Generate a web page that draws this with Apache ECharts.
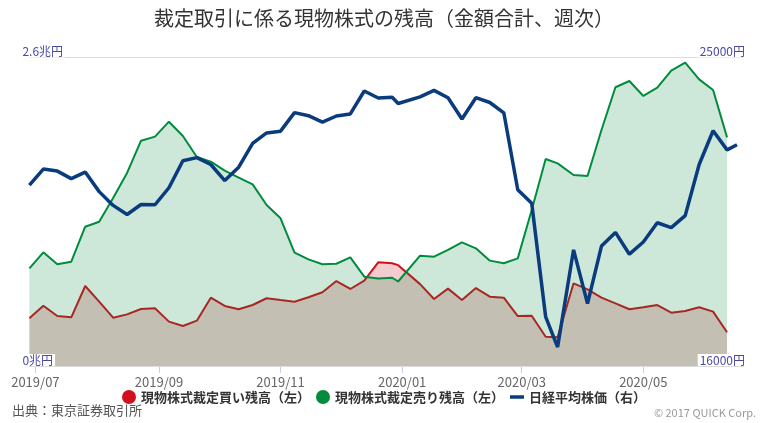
<!DOCTYPE html>
<html>
<head>
<meta charset="utf-8">
<script src="https://cdn.jsdelivr.net/npm/echarts@6/dist/echarts.min.js"></script>
<style>
html,body{margin:0;padding:0;background:#fff;}
#c{width:768px;height:423px;}
</style>
</head>
<body>
<div id="c"></div>
<script>
// ---- data ----
const weekDates = [
  '2019-06-28','2019-07-05','2019-07-12','2019-07-19','2019-07-26',
  '2019-08-02','2019-08-09','2019-08-16','2019-08-23','2019-08-30',
  '2019-09-06','2019-09-13','2019-09-20','2019-09-27',
  '2019-10-04','2019-10-11','2019-10-18','2019-10-25',
  '2019-11-01','2019-11-08','2019-11-15','2019-11-22','2019-11-29',
  '2019-12-06','2019-12-13','2019-12-20','2019-12-27','2019-12-30',
  '2020-01-10','2020-01-17','2020-01-24','2020-01-31',
  '2020-02-07','2020-02-14','2020-02-21','2020-02-28',
  '2020-03-06','2020-03-13','2020-03-19','2020-03-27',
  '2020-04-03','2020-04-10','2020-04-17','2020-04-24',
  '2020-05-01','2020-05-08','2020-05-15','2020-05-22','2020-05-29',
  '2020-06-05','2020-06-12'
];
const nikkeiDates = weekDates.concat(['2020-06-17']);

// 現物株式裁定買い残高（兆円）
const buyBalance = [
  0.402,0.508,0.421,0.410,0.674,
  0.542,0.407,0.435,0.480,0.486,
  0.374,0.337,0.382,0.576,
  0.506,0.478,0.514,0.571,
  0.556,0.542,0.579,0.621,0.716,
  0.649,0.719,0.874,0.866,0.850,
  0.690,0.565,0.652,0.556,
  0.657,0.584,0.576,0.421,
  0.424,0.247,0.242,0.697,
  0.646,0.576,0.528,0.478,
  0.495,0.514,0.449,0.464,0.495,
  0.458,0.284
];
// 現物株式裁定売り残高（兆円）
const sellBalance = [
  0.823,0.958,0.857,0.879,1.174,
  1.216,1.416,1.627,1.899,1.933,
  2.059,1.938,1.761,1.722,
  1.646,1.587,1.531,1.357,
  1.245,0.955,0.899,0.857,0.862,
  0.916,0.753,0.738,0.744,0.712,
  0.930,0.921,0.978,1.042,
  0.992,0.888,0.866,0.907,
  1.315,1.745,1.708,1.610,
  1.601,1.989,2.349,2.402,
  2.276,2.346,2.489,2.556,2.416,
  2.326,1.927
];
// 日経平均株価（円）
const nikkei = [
  21276,21746,21686,21467,21658,
  21087,20685,20419,20711,20704,
  21200,21988,22079,21879,
  21410,21799,22493,22800,
  22851,23392,23303,23113,23294,
  23354,24023,23817,23838,23657,
  23851,24041,23827,23205,
  23828,23688,23387,21143,
  20750,17431,16553,19389,
  17820,19499,19897,19262,
  19619,20179,20037,20388,21878,
  22864,22305,22456
];
const xTickLabels = ['2019-07-01','2019-09-01','2019-11-01','2020-01-01','2020-03-01','2020-05-01'];
const seriesNames = ['現物株式裁定買い残高（左）','現物株式裁定売り残高（左）','日経平均株価（右）'];

// ---- helpers ----
function ts(s){ const p = s.split('-').map(Number); return new Date(p[0], p[1]-1, p[2]).getTime(); }
function pairs(d, v){ return d.map((x,i)=>[ts(x), v[i]]); }
const FONT = '"Noto Sans CJK JP", "Noto Sans", sans-serif';
const tickVals = xTickLabels.map(ts);

const chart = echarts.init(document.getElementById('c'), null, {renderer:'canvas'});
chart.setOption({
  animation:false,
  backgroundColor:'#fff',
  textStyle:{fontFamily:FONT},
  title:{
    text:'裁定取引に係る現物株式の残高（金額合計、週次）',
    left:'center', top:3,
    textStyle:{fontSize:20, fontWeight:'normal', color:'#333', fontFamily:FONT}
  },
  legend:{
    left:'center', top:390, padding:0,
    itemGap:6, itemWidth:14, itemHeight:14,
    textStyle:{fontSize:13, fontWeight:'bold', color:'#333', fontFamily:FONT},
    data:[
      {name:seriesNames[0], icon:'circle'},
      {name:seriesNames[1], icon:'circle'},
      {name:seriesNames[2], icon:'path://M0,0 H16 V4 H0 Z'}
    ]
  },
  grid:{left:29.4, right:25, top:57.5, bottom:57, containLabel:false},
  xAxis:{
    type:'value',
    min:ts('2019-06-28'), max:ts('2020-06-20'),
    axisLine:{show:true, lineStyle:{color:'#c7cfe8', width:1}},
    axisTick:{show:true, customValues:tickVals, length:7, lineStyle:{color:'#c7cfe8'}},
    axisLabel:{
      customValues:tickVals, margin:10, color:'#666', fontSize:13, fontFamily:FONT,
      showMinLabel:true, showMaxLabel:true,
      formatter:function(v){ const d=new Date(v); const m=d.getMonth()+1; return d.getFullYear()+'/'+(m<10?'0':'')+m; }
    },
    splitLine:{show:false}
  },
  yAxis:[
    {
      type:'value', min:0, max:2.6, interval:2.6, z:10,
      axisLine:{show:false}, axisTick:{show:false},
      splitLine:{show:true, lineStyle:{color:'#dcdcdc', width:1}},
      axisLabel:{
        inside:true, margin:-7, verticalAlign:'bottom', color:'#4a4aa3', fontSize:12, fontFamily:FONT,
        backgroundColor:'#fff', padding:[0,2,0,0],
        formatter:function(v){ return v + '兆円'; }
      }
    },
    {
      type:'value', min:16000, max:25000, interval:9000, position:'right', z:10,
      axisLine:{show:false}, axisTick:{show:false}, splitLine:{show:false},
      axisLabel:{
        inside:true, margin:-2, verticalAlign:'bottom', color:'#4a4aa3', fontSize:12, fontFamily:FONT,
        backgroundColor:'#fff', padding:[0,0,0,2],
        formatter:function(v){ return v + '円'; }
      }
    }
  ],
  series:[
    {
      name:seriesNames[0], type:'line', z:2, yAxisIndex:0,
      data:pairs(weekDates, buyBalance),
      showSymbol:false, symbol:'none', smooth:false,
      itemStyle:{color:'#d0101c'},
      lineStyle:{color:'#d0101c', width:2},
      areaStyle:{color:'#c30014', opacity:0.2}
    },
    {
      name:seriesNames[1], type:'line', z:3, yAxisIndex:0,
      data:pairs(weekDates, sellBalance),
      showSymbol:false, symbol:'none', smooth:false,
      itemStyle:{color:'#008c3c'},
      lineStyle:{color:'#008c3c', width:2},
      areaStyle:{color:'#058c41', opacity:0.2}
    },
    {
      name:seriesNames[2], type:'line', z:4, yAxisIndex:1,
      data:pairs(nikkeiDates, nikkei),
      showSymbol:false, symbol:'none', smooth:false,
      itemStyle:{color:'#0a3c7d'},
      lineStyle:{color:'#0a3c7d', width:3.5}
    }
  ],
  graphic:[
    {type:'text', left:12, top:404, style:{text:'出典：東京証券取引所', fill:'#555', font:'13px '+FONT}},
    {type:'text', right:12, top:407, style:{text:'© 2017 QUICK Corp.', fill:'#999', font:'11px '+FONT}}
  ]
});
</script>
</body>
</html>
